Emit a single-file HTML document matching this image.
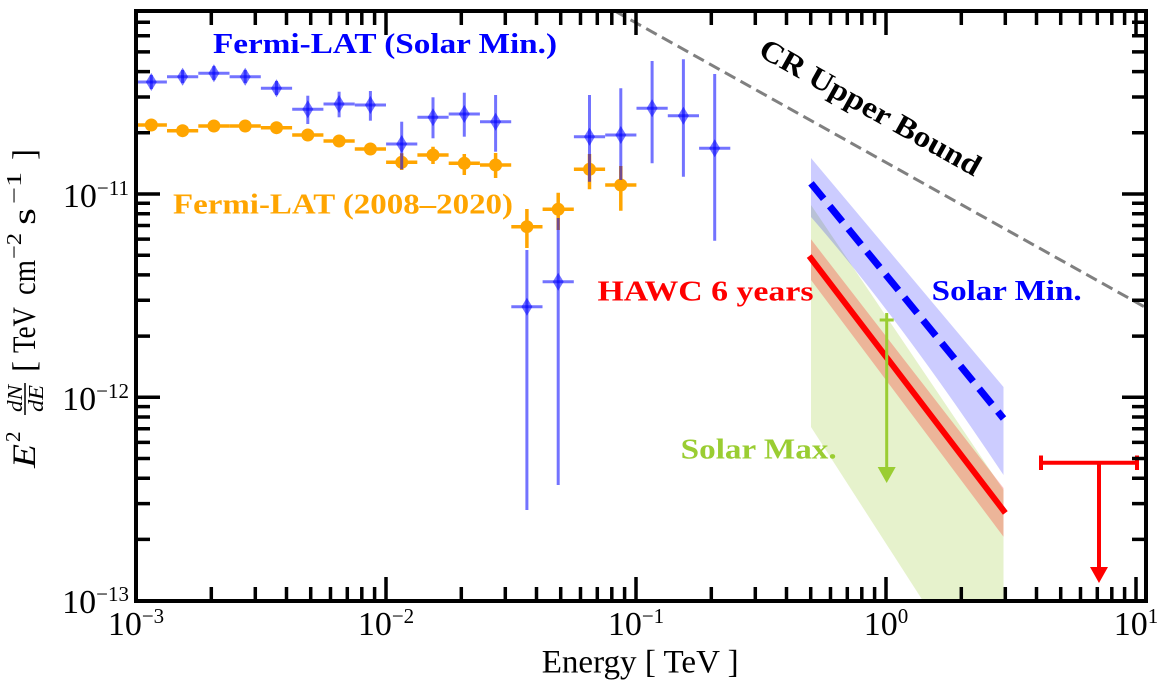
<!DOCTYPE html>
<html><head><meta charset="utf-8"><style>
html,body{margin:0;padding:0;background:#fff;}
svg{display:block;font-family:"Liberation Serif",serif;}
svg text{font-family:"Liberation Serif",serif;}
</style></head><body>
<svg width="1157" height="687" viewBox="0 0 1157 687" xmlns="http://www.w3.org/2000/svg" font-family="Liberation Serif, serif">
<rect width="1157" height="687" fill="#fff"/>

<!-- HAWC bands -->
<polygon points="811,205 1003.5,490 1003.5,601 923,601 811,427" fill="#9acd32" fill-opacity="0.25"/>
<polygon points="811,239.3 1003.5,488 1003.5,536.7 811,280" fill="#ff0000" fill-opacity="0.25"/>
<path d="M811,158 L1003.5,387 L1003.5,475 Q899,318 811,217 Z" fill="#0000ff" fill-opacity="0.2"/>

<!-- CR upper bound dashed -->
<path d="M614.8,11 L1146,307.7" stroke="#808080" stroke-width="3" stroke-dasharray="12,6" fill="none"/>

<!-- HAWC lines -->
<path d="M811,183.3 L1003.5,418.5" stroke="#0000ff" stroke-width="7" stroke-dasharray="20,9.5" fill="none"/>
<path d="M811,258.5 L1003.5,510.5" stroke="#ff0000" stroke-width="6" stroke-linecap="square" fill="none"/>

<!-- Solar Max upper limit -->
<g stroke="#9acd32" stroke-width="3" fill="none">
<path d="M886.7,313 V470 M879.7,320 H893.7"/>
</g>
<polygon points="877.7,467 895.7,467 886.7,483" fill="#9acd32"/>

<!-- HAWC red UL -->
<g stroke="#ff0000" stroke-width="4" fill="none">
<path d="M1039.3,462.7 H1138 M1041,455.5 V470 M1137,455.5 V470 M1099,462.7 V570"/>
</g>
<polygon points="1090,567 1108,567 1099,583" fill="#ff0000"/>

<!-- Orange Fermi-LAT 2008-2020 -->
<g stroke="#ffa500" stroke-width="3.5" fill="none">
<path d="M136,125 H166.9 M167,130.7 H198.2 M198.3,126 H229.5 M229.6,126 H260.8 M260.9,127.7 H292.1 M292.2,135 H323.4 M323.5,141 H354.7 M354.8,149 H386 M386.1,162.3 H417.3 M417.4,155 H448.6 M448.7,163.3 H479.9 M480,165 H511.2 M511.3,226.7 H542.5 M542.6,209.3 H573.8 M573.9,169.3 H605.1 M605.2,185 H636.4"/>
<path d="M401.7,153.3 V170 M433,146.7 V164 M464.3,154 V175 M495.6,153 V178 M526.9,209 V248 M558.2,192.7 V230 M589.5,154 V189.3 M620.8,166 V210.7"/>
</g>
<g fill="#ffa500">
<circle cx="151.3" cy="125" r="6.5"/><circle cx="182.6" cy="130.7" r="6.5"/><circle cx="213.9" cy="126" r="6.5"/><circle cx="245.2" cy="126" r="6.5"/>
<circle cx="276.5" cy="127.7" r="6.5"/><circle cx="307.8" cy="135" r="6.5"/><circle cx="339.1" cy="141" r="6.5"/><circle cx="370.4" cy="149" r="6.5"/>
<circle cx="401.7" cy="162.3" r="6.5"/><circle cx="433" cy="155" r="6.5"/><circle cx="464.3" cy="163.3" r="6.5"/><circle cx="495.6" cy="165" r="6.5"/>
<circle cx="526.9" cy="226.7" r="6.5"/><circle cx="558.2" cy="209.3" r="6.5"/><circle cx="589.5" cy="169.3" r="6.5"/><circle cx="620.8" cy="185" r="6.5"/>
</g>

<!-- Blue Fermi-LAT Solar Min -->
<g stroke="#0000ff" stroke-opacity="0.55" stroke-width="3" fill="none">
<path d="M136,82 H166.9"/><path d="M151.3,75 V89"/>
<path d="M167,76.7 H198.2"/><path d="M182.6,70 V83"/>
<path d="M198.3,73.3 H229.5"/><path d="M213.9,66 V80"/>
<path d="M229.6,76.7 H260.8"/><path d="M245.2,70 V83"/>
<path d="M260.9,88.3 H292.1"/><path d="M276.5,81 V95"/>
<path d="M292.2,109.3 H323.4"/><path d="M307.8,95.7 V124"/>
<path d="M323.5,104 H354.7"/><path d="M339.1,91.7 V117.3"/>
<path d="M354.8,105 H386"/><path d="M370.4,91 V120.7"/>
<path d="M386.1,144 H417.3"/><path d="M401.7,121.7 V169.3"/>
<path d="M417.4,117.3 H448.6"/><path d="M433,97.3 V138.3"/>
<path d="M448.7,114 H479.9"/><path d="M464.3,92.7 V136.7"/>
<path d="M480,121.7 H511.2"/><path d="M495.6,95 V151.7"/>
<path d="M511.3,306.7 H542.5"/><path d="M526.9,250 V510"/>
<path d="M542.6,281.7 H573.8"/><path d="M558.2,218 V485"/>
<path d="M573.9,136.7 H605.1"/><path d="M589.5,95 V181.7"/>
<path d="M605.2,135 H636.4"/><path d="M620.8,88.3 V180"/>
<path d="M636.5,108.3 H667.7"/><path d="M652.1,61 V163.3"/>
<path d="M667.8,115.7 H699"/><path d="M683.4,59.3 V176.7"/>
<path d="M699.1,148.3 H730.3"/><path d="M714.7,74 V240.7"/>
</g>
<g fill="#0000ff" fill-opacity="0.55">
<polygon points="151.3,73 156.8,82 151.3,91 145.8,82"/>
<polygon points="182.6,67.7 188.1,76.7 182.6,85.7 177.1,76.7"/>
<polygon points="213.9,64.3 219.4,73.3 213.9,82.3 208.4,73.3"/>
<polygon points="245.2,67.7 250.7,76.7 245.2,85.7 239.7,76.7"/>
<polygon points="276.5,79.3 282,88.3 276.5,97.3 271,88.3"/>
<polygon points="307.8,100.3 313.3,109.3 307.8,118.3 302.3,109.3"/>
<polygon points="339.1,95 344.6,104 339.1,113 333.6,104"/>
<polygon points="370.4,96 375.9,105 370.4,114 364.9,105"/>
<polygon points="401.7,135 407.2,144 401.7,153 396.2,144"/>
<polygon points="433,108.3 438.5,117.3 433,126.3 427.5,117.3"/>
<polygon points="464.3,105 469.8,114 464.3,123 458.8,114"/>
<polygon points="495.6,112.7 501.1,121.7 495.6,130.7 490.1,121.7"/>
<polygon points="526.9,297.7 532.4,306.7 526.9,315.7 521.4,306.7"/>
<polygon points="558.2,272.7 563.7,281.7 558.2,290.7 552.7,281.7"/>
<polygon points="589.5,127.7 595,136.7 589.5,145.7 584,136.7"/>
<polygon points="620.8,126 626.3,135 620.8,144 615.3,135"/>
<polygon points="652.1,99.3 657.6,108.3 652.1,117.3 646.6,108.3"/>
<polygon points="683.4,106.7 688.9,115.7 683.4,124.7 677.9,115.7"/>
<polygon points="714.7,139.3 720.2,148.3 714.7,157.3 709.2,148.3"/>
</g>

<!-- Annotations -->
<g font-family="Liberation Serif, serif" font-weight="bold">
<text x="213" y="53" font-size="29" fill="#0000ff" textLength="344" lengthAdjust="spacingAndGlyphs">Fermi-LAT (Solar Min.)</text>
<text x="173" y="213.3" font-size="29" fill="#ffa500" textLength="340" lengthAdjust="spacingAndGlyphs">Fermi-LAT (2008–2020)</text>
<text x="597.5" y="300.7" font-size="29" fill="#ff0000" textLength="216" lengthAdjust="spacingAndGlyphs">HAWC 6 years</text>
<text x="931.7" y="300" font-size="29" fill="#0000ff" textLength="150" lengthAdjust="spacingAndGlyphs">Solar Min.</text>
<text x="680.7" y="458.3" font-size="29" fill="#9acd32" textLength="156" lengthAdjust="spacingAndGlyphs">Solar Max.</text>
<text transform="translate(757,55) rotate(29.3)" font-size="30" fill="#000" textLength="249" lengthAdjust="spacingAndGlyphs">CR Upper Bound</text>
</g>

<!-- Axes spines -->
<rect x="136" y="11" width="1010" height="590" fill="none" stroke="#000" stroke-width="4"/>

<!-- Ticks -->
<g stroke="#000" stroke-width="3.5" fill="none">
<path d="M386,601V577M636,601V577M886,601V577M1136,601V577M386,11V35M636,11V35M886,11V35M1136,11V35"/>
<path d="M211.3,601V587M255.3,601V587M286.5,601V587M310.7,601V587M330.5,601V587M347.3,601V587M361.8,601V587M374.6,601V587M461.3,601V587M505.3,601V587M536.5,601V587M560.7,601V587M580.5,601V587M597.3,601V587M611.8,601V587M624.6,601V587M711.3,601V587M755.3,601V587M786.5,601V587M810.7,601V587M830.5,601V587M847.3,601V587M861.8,601V587M874.6,601V587M961.3,601V587M1005.3,601V587M1036.5,601V587M1060.7,601V587M1080.5,601V587M1097.3,601V587M1111.8,601V587M1124.6,601V587"/>
<path d="M211.3,11V25M255.3,11V25M286.5,11V25M310.7,11V25M330.5,11V25M347.3,11V25M361.8,11V25M374.6,11V25M461.3,11V25M505.3,11V25M536.5,11V25M560.7,11V25M580.5,11V25M597.3,11V25M611.8,11V25M624.6,11V25M711.3,11V25M755.3,11V25M786.5,11V25M810.7,11V25M830.5,11V25M847.3,11V25M861.8,11V25M874.6,11V25M961.3,11V25M1005.3,11V25M1036.5,11V25M1060.7,11V25M1080.5,11V25M1097.3,11V25M1111.8,11V25M1124.6,11V25"/>
<path d="M136,397.3H160M136,194H160M1146,397.3H1122M1146,194H1122"/>
<path d="M136,539.4H150M136,503.6H150M136,478.2H150M136,458.5H150M136,442.4H150M136,428.8H150M136,417H150M136,406.6H150M136,336.1H150M136,300.3H150M136,274.9H150M136,255.2H150M136,239.1H150M136,225.5H150M136,213.7H150M136,203.3H150M136,132.8H150M136,97H150M136,71.6H150M136,51.9H150M136,35.8H150M136,22.2H150"/>
<path d="M1146,539.4H1132M1146,503.6H1132M1146,478.2H1132M1146,458.5H1132M1146,442.4H1132M1146,428.8H1132M1146,417H1132M1146,406.6H1132M1146,336.1H1132M1146,300.3H1132M1146,274.9H1132M1146,255.2H1132M1146,239.1H1132M1146,225.5H1132M1146,213.7H1132M1146,203.3H1132M1146,132.8H1132M1146,97H1132M1146,71.6H1132M1146,51.9H1132M1146,35.8H1132M1146,22.2H1132"/>
</g>

<!-- X tick labels -->
<g font-family="Liberation Serif, serif" font-size="34" fill="#000" text-anchor="middle">
<text x="136" y="635">10<tspan font-size="21" dy="-12">−3</tspan></text>
<text x="386" y="635">10<tspan font-size="21" dy="-12">−2</tspan></text>
<text x="636" y="635">10<tspan font-size="21" dy="-12">−1</tspan></text>
<text x="886" y="635">10<tspan font-size="21" dy="-12">0</tspan></text>
<text x="1136" y="635">10<tspan font-size="21" dy="-12">1</tspan></text>
</g>

<!-- Y tick labels -->
<g font-family="Liberation Serif, serif" font-size="34" fill="#000" text-anchor="end">
<text x="129" y="613">10<tspan font-size="21" dy="-12">−13</tspan></text>
<text x="129" y="410">10<tspan font-size="21" dy="-12">−12</tspan></text>
<text x="129" y="207">10<tspan font-size="21" dy="-12">−11</tspan></text>
</g>

<!-- X axis label -->
<text x="541.7" y="672.7" font-family="Liberation Serif, serif" font-size="33" fill="#000" textLength="197" lengthAdjust="spacingAndGlyphs">Energy [ TeV ]</text>

<!-- Y axis label -->
<g transform="translate(35,468) rotate(-90)" fill="#000" font-family="Liberation Serif, serif">
<text x="0" y="0" font-size="33" font-style="italic" textLength="24" lengthAdjust="spacingAndGlyphs">E</text>
<text x="26" y="-15" font-size="21">2</text>
<text x="56" y="-13" font-size="21" font-style="italic" textLength="27" lengthAdjust="spacingAndGlyphs">dN</text>
<line x1="53" y1="-10" x2="85" y2="-10" stroke="#000" stroke-width="1.5"/>
<text x="56" y="8" font-size="21" font-style="italic" textLength="27" lengthAdjust="spacingAndGlyphs">dE</text>
<text x="96" y="0" font-size="33">[</text>
<text x="115" y="0" font-size="33" textLength="46" lengthAdjust="spacingAndGlyphs">TeV</text>
<text x="173" y="0" font-size="33" textLength="35" lengthAdjust="spacingAndGlyphs">cm</text>
<text x="209" y="-14" font-size="21" textLength="26" lengthAdjust="spacingAndGlyphs">−2</text>
<text x="243" y="0" font-size="33" textLength="17" lengthAdjust="spacingAndGlyphs">s</text>
<text x="264" y="-14" font-size="21" textLength="32" lengthAdjust="spacingAndGlyphs">−1</text>
<text x="308" y="0" font-size="33">]</text>
</g>
</svg>
</body></html>
